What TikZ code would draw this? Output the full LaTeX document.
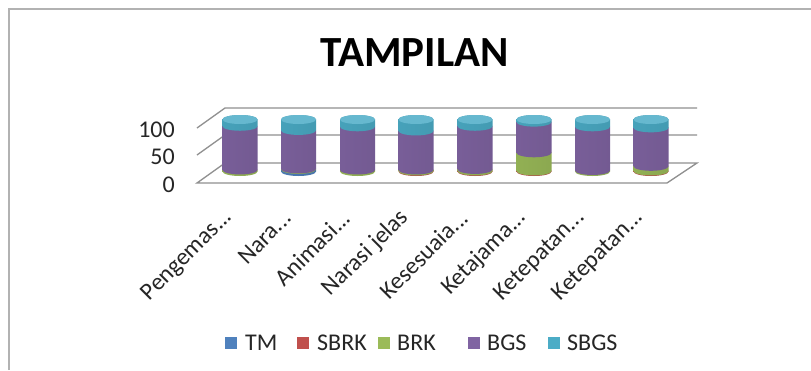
\documentclass[tikz,border=0pt]{standalone}
\usepackage{fontspec}
\setmainfont{Carlito}
\usepackage{graphicx}
\definecolor{TMc}{HTML}{4F81BD}
\definecolor{SBRKc}{HTML}{C0504D}
\definecolor{BRKc}{HTML}{9BBB59}
\definecolor{BGSc}{HTML}{8064A2}
\definecolor{SBGSc}{HTML}{4BACC6}
\definecolor{gridc}{HTML}{909090}
\newcommand\cylseg[4]{%
  \pgfmathsetmacro\yb{171.5-0.52*#2}%
  \pgfmathsetmacro\yt{171.5-0.52*#3}%
  \path[left color=#4!94!black, middle color=#4!82!white, right color=#4!90!black]
    (#1-17.5,\yb) arc[start angle=180,end angle=0,x radius=17.5,y radius=4.5]
    -- (#1+17.5,\yt) arc[start angle=360,end angle=180,x radius=17.5,y radius=4.5] -- cycle;
}
\newcommand\cylbar[6]{%
  \pgfmathtruncatemacro\cA{#2}%
  \pgfmathtruncatemacro\cB{#2+#3}%
  \pgfmathtruncatemacro\cC{#2+#3+#4}%
  \pgfmathtruncatemacro\cD{#2+#3+#4+#5}%
  \pgfmathtruncatemacro\cE{#2+#3+#4+#5+#6}%
  \ifnum#2>0 \cylseg{#1}{0}{\cA}{TMc}\fi
  \ifnum#3>0 \cylseg{#1}{\cA}{\cB}{SBRKc}\fi
  \ifnum#4>0 \cylseg{#1}{\cB}{\cC}{BRKc}\fi
  \ifnum#5>0 \cylseg{#1}{\cC}{\cD}{BGSc}\fi
  \ifnum#6>0 \cylseg{#1}{\cD}{\cE}{SBGSc}\fi
  \fill[SBGSc!85!white] (#1,171.5-0.52*\cE) ellipse[x radius=17.5,y radius=4.5];
}
\tikzset{
  grid/.style={draw=gridc, line width=1.3pt},
  lbl/.style={font=\fontsize{24}{29}\selectfont, inner sep=0pt, text=black!85},
  xlbl/.style={lbl, rotate=45, anchor=east},
  ylbl/.style={lbl, anchor=east},
  legsq/.style={minimum size=12pt, inner sep=0pt, draw=none},
  legtx/.style={lbl, anchor=west},
}
\begin{document}
\begin{tikzpicture}[x=1pt,y=-1pt]
\useasboundingbox (0,0) rectangle (811,370);
\fill[white] (0,0) rectangle (811,370);
\draw[gray!60, line width=2pt] (9,370) -- (9,9) -- (811,9);
% title
\node[font=\fontsize{43}{50}\selectfont\bfseries, anchor=base, inner sep=0pt] (title) at (414.5,66) {TAMPILAN};
% walls and grid
\coordinate (bl0) at (197,183);
\coordinate (bb0) at (225,163);
\coordinate (br0) at (697,163);
\coordinate (fr0) at (667,183);
\coordinate (bl50) at (197,155);
\coordinate (bb50) at (225,135);
\coordinate (br50) at (697,135);
\coordinate (bl100) at (197,128);
\coordinate (bb100) at (225,108);
\coordinate (br100) at (697,108);
\draw[grid] (bl0) -- (fr0) -- (br0) -- (bb0) -- cycle;
\draw[grid] (bl50) -- (bb50) -- (br50);
\draw[grid] (bl100) -- (bb100) -- (br100);
% y labels
\node[ylbl] (y100) at (175,129.5) {100};
\node[ylbl] (y50) at (175,157) {50};
\node[ylbl] (y0) at (175,184.5) {0};
% bars
\cylbar{240}{0}{0}{3}{84}{13}
\cylbar{298.5}{4}{0}{1}{74}{21}
\cylbar{357.5}{0}{0}{3}{83}{14}
\cylbar{416}{0}{1}{2}{75}{22}
\cylbar{475}{0}{1}{3}{83}{13}
\cylbar{534}{0}{1}{35}{59}{5}
\cylbar{592.5}{0}{0}{2}{84}{14}
\cylbar{651}{0}{1}{9}{74}{16}
% x labels
\node[xlbl] (x1) at (229,214) {Pengemas...};
\node[xlbl] (x2) at (287.5,214) {Nara...};
\node[xlbl] (x3) at (346.5,214) {Animasi...};
\node[xlbl] (x4) at (405,214) {Narasi jelas};
\node[xlbl] (x5) at (464,214) {Kesesuaia...};
\node[xlbl] (x6) at (523,214) {Ketajama...};
\node[xlbl] (x7) at (581.5,214) {Ketepatan...};
\node[xlbl] (x8) at (640,214) {Ketepatan...};
% legend
\node[legsq, fill=TMc] (sq1) at (231,343) {};
\node[legtx] (t1) at (245,343) {TM};
\node[legsq, fill=SBRKc] (sq2) at (303,343) {};
\node[legtx] (t2) at (317,343) {SBRK};
\node[legsq, fill=BRKc] (sq3) at (384,343) {};
\node[legtx] (t3) at (397,343) {BRK};
\node[legsq, fill=BGSc] (sq4) at (474,343) {};
\node[legtx] (t4) at (487,343) {BGS};
\node[legsq, fill=SBGSc] (sq5) at (554,343) {};
\node[legtx] (t5) at (567,343) {SBGS};
\end{tikzpicture}
\end{document}
